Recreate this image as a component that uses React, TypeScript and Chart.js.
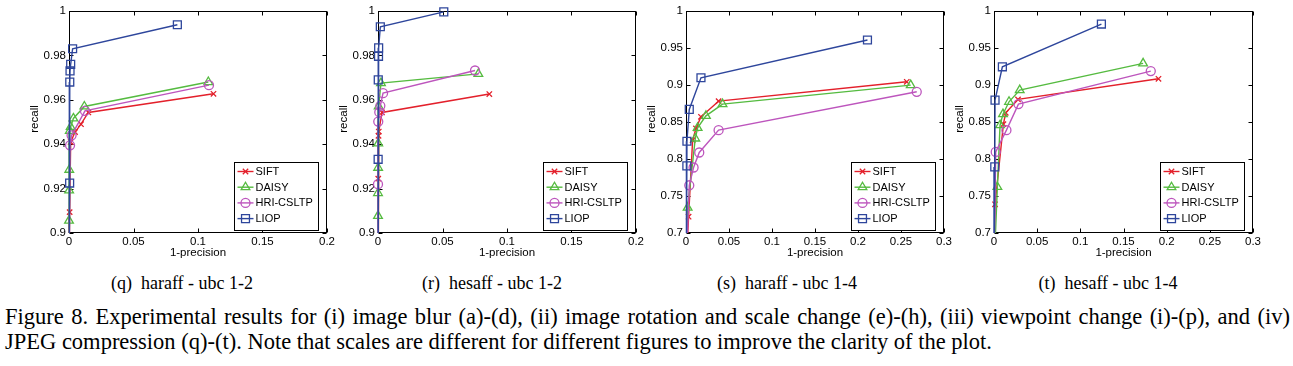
import React, { useEffect, useRef } from 'react';
import { Chart, registerables } from 'chart.js';
import { drawPoint } from 'chart.js/helpers';

Chart.register(...registerables);

// ---------- data ----------
const seriesNames = ['SIFT', 'DAISY', 'HRI-CSLTP', 'LIOP'];

const xTicksNarrow = [0, 0.05, 0.1, 0.15, 0.2];
const xTicksWide = [0, 0.05, 0.1, 0.15, 0.2, 0.25, 0.3];
const yTicksFine = [0.9, 0.92, 0.94, 0.96, 0.98, 1];
const yTicksCoarse = [0.7, 0.75, 0.8, 0.85, 0.9, 0.95, 1];

const xTitle = '1-precision';
const yTitle = 'recall';

// (q) haraff - ubc 1-2   [1-precision, recall]
const qSIFT = [[0.112, 0.9627], [0.015, 0.9543], [0.0093, 0.949], [0.0047, 0.9455], [0.0013, 0.941], [0.0005, 0.9094], [0, 0.88]];
const qDAISY = [[0.108, 0.968], [0.0119, 0.957], [0.0034, 0.9516], [0.0013, 0.9478], [0.0006, 0.946], [0.0002, 0.9285], [0.0001, 0.9192], [0, 0.9056], [0, 0.88]];
const qHRI = [[0.1085, 0.9666], [0.0124, 0.955], [0.002, 0.944], [0.0008, 0.9395], [0, 0.88]];
const qLIOP = [[0.084, 0.9938], [0.0028, 0.983], [0.0013, 0.976], [0.0008, 0.973], [0.0006, 0.968], [0.0005, 0.9225], [0, 0.88]];

// (r) hesaff - ubc 1-2
const rSIFT = [[0.0863, 0.9626], [0.0031, 0.9543], [0.0006, 0.9457], [0.0004, 0.9438], [0.0002, 0.9245], [0, 0.88]];
const rDAISY = [[0.0778, 0.9717], [0.0023, 0.9675], [0.0005, 0.957], [0.0002, 0.9404], [0.0001, 0.9294], [0, 0.918], [0, 0.9077], [0, 0.88]];
const rHRI = [[0.0752, 0.9732], [0.0039, 0.963], [0.0018, 0.9573], [0.001, 0.9544], [0.0002, 0.9502], [0, 0.922], [0, 0.88]];
const rLIOP = [[0.051, 0.9996], [0.0018, 0.9929], [0.0005, 0.9834], [0.0004, 0.9796], [0.0002, 0.969], [0.0001, 0.9332], [0, 0.88]];

// (s) haraff - ubc 1-4
const sSIFT = [[0.2567, 0.9043], [0.0379, 0.8782], [0.0174, 0.857], [0.0116, 0.8413], [0.0077, 0.8254], [0.003, 0.722], [0, 0.65]];
const sDAISY = [[0.2613, 0.8999], [0.0425, 0.8742], [0.0232, 0.8583], [0.0135, 0.8421], [0.0108, 0.8277], [0.0019, 0.7343], [0, 0.65]];
const sHRI = [[0.2683, 0.8908], [0.0379, 0.839], [0.0154, 0.8088], [0.0088, 0.7885], [0.0038, 0.7645], [0, 0.65]];
const sLIOP = [[0.211, 0.9608], [0.0174, 0.9098], [0.0038, 0.867], [0.0011, 0.824], [0.001, 0.7907], [0, 0.65]];

// (t) hesaff - ubc 1-4
const tSIFT = [[0.1905, 0.9084], [0.0278, 0.8805], [0.0136, 0.8624], [0.0109, 0.8471], [0.0012, 0.7388], [0, 0.65]];
const tDAISY = [[0.1727, 0.9292], [0.0298, 0.8931], [0.0174, 0.8773], [0.0104, 0.8606], [0.007, 0.8457], [0.0039, 0.7622], [0, 0.65]];
const tHRI = [[0.1816, 0.9188], [0.0283, 0.8742], [0.0144, 0.839], [0.002, 0.8096], [0, 0.65]];
const tLIOP = [[0.1244, 0.9824], [0.0097, 0.9246], [0.0012, 0.8796], [0.0009, 0.7893], [0, 0.65]];

const subCaptions = ['(q)  haraff - ubc 1-2', '(r)  hesaff - ubc 1-2', '(s)  haraff - ubc 1-4', '(t)  hesaff - ubc 1-4'];
const captionLine1 = 'Figure 8. Experimental results for (i) image blur (a)-(d), (ii) image rotation and scale change (e)-(h), (iii) viewpoint change (i)-(p), and (iv)';
const captionLine2 = 'JPEG compression (q)-(t). Note that scales are different for different figures to improve the clarity of the plot.';

// ---------- styles / layout ----------
const SERIES_STYLE = [
  { color: '#e3202b', pointStyle: 'crossRot', radius: 3.8 },
  { color: '#55bb40', pointStyle: 'triangle', radius: 5 },
  { color: '#bd55bd', pointStyle: 'circle', radius: 4.5 },
  { color: '#2e469c', pointStyle: 'rect', radius: 5.6 },
];
const FONT = { family: '"Liberation Sans", Arial, sans-serif', size: 11.5 };
const CANVAS_H = 260;
const AREA_TOP = 11;
const AREA_BOTTOM = 233;
const PAD_L = 60;
const PAD_R = 10;

const panels = [
  { left: 69, right: 327, xMax: 0.2, yMin: 0.9, xTicks: xTicksNarrow, yTicks: yTicksFine, series: [qSIFT, qDAISY, qHRI, qLIOP], capX: 182 },
  { left: 378, right: 636, xMax: 0.2, yMin: 0.9, xTicks: xTicksNarrow, yTicks: yTicksFine, series: [rSIFT, rDAISY, rHRI, rLIOP], capX: 492 },
  { left: 686, right: 944, xMax: 0.3, yMin: 0.7, xTicks: xTicksWide, yTicks: yTicksCoarse, series: [sSIFT, sDAISY, sHRI, sLIOP], capX: 787 },
  { left: 994, right: 1253, xMax: 0.3, yMin: 0.7, xTicks: xTicksWide, yTicks: yTicksCoarse, series: [tSIFT, tDAISY, tHRI, tLIOP], capX: 1108 },
];

const fontStr = `${FONT.size}px ${FONT.family}`;

const matlabPlugin = {
  id: 'matlabAxes',
  beforeDatasetsDraw(chart: any) {
    const { ctx, chartArea: a, scales } = chart;
    const L = Math.round(a.left) + 0.5;
    const R = Math.round(a.right) - 0.5;
    const T = Math.round(a.top) + 0.5;
    const B = Math.round(a.bottom) - 0.5;
    ctx.save();
    ctx.strokeStyle = '#000';
    ctx.lineWidth = 1;
    ctx.strokeRect(L, T, R - L, B - T);
    const tl = 4;
    ctx.beginPath();
    scales.x.ticks.forEach((t: any) => {
      const x = Math.round(scales.x.getPixelForValue(t.value)) + 0.5;
      ctx.moveTo(x, B); ctx.lineTo(x, B - tl);
      ctx.moveTo(x, T); ctx.lineTo(x, T + tl);
    });
    scales.y.ticks.forEach((t: any) => {
      const y = Math.round(scales.y.getPixelForValue(t.value)) + 0.5;
      ctx.moveTo(L, y); ctx.lineTo(L + tl, y);
      ctx.moveTo(R, y); ctx.lineTo(R - tl, y);
    });
    ctx.stroke();
    ctx.restore();
  },
  afterDatasetsDraw(chart: any) {
    const { ctx, chartArea: a } = chart;
    ctx.save();
    ctx.font = fontStr;
    ctx.fillStyle = '#000';
    // axis titles
    ctx.textAlign = 'center';
    ctx.textBaseline = 'middle';
    ctx.fillText(xTitle, (a.left + a.right) / 2, a.bottom + 20);
    ctx.save();
    ctx.translate(a.left - 34, (a.top + a.bottom) / 2 - 3);
    ctx.rotate(-Math.PI / 2);
    ctx.fillText(yTitle, 0, 0);
    ctx.restore();
    // legend
    const w = 84, h = 68;
    const bx = Math.round(a.right - 9 - w) + 0.5;
    const by = Math.round(a.bottom - 3 - h) + 0.5;
    ctx.fillStyle = '#fff';
    ctx.fillRect(bx, by, w, h);
    ctx.strokeStyle = '#000';
    ctx.lineWidth = 1;
    ctx.strokeRect(bx, by, w, h);
    ctx.font = `11px ${FONT.family}`;
    chart.data.datasets.forEach((ds: any, i: number) => {
      const st = SERIES_STYLE[i];
      const y = by + 9 + i * 15.7;
      ctx.strokeStyle = st.color;
      ctx.lineWidth = 1.4;
      ctx.beginPath();
      ctx.moveTo(bx + 3, y);
      ctx.lineTo(bx + 19, y);
      ctx.stroke();
      ctx.fillStyle = 'rgba(0,0,0,0)';
      ctx.lineWidth = 1.3;
      drawPoint(ctx, { pointStyle: st.pointStyle, radius: st.radius, rotation: 0, borderWidth: 1.3 } as any, bx + 11, y);
      ctx.fillStyle = '#000';
      ctx.textAlign = 'left';
      ctx.textBaseline = 'middle';
      ctx.fillText(ds.label, bx + 21, y + 0.5);
    });
    ctx.restore();
  },
};

function Panel({ cfg }: { cfg: any }) {
  const ref = useRef<HTMLCanvasElement>(null);
  const W = cfg.right - cfg.left + PAD_L + PAD_R;
  useEffect(() => {
    const chart = new Chart(ref.current as HTMLCanvasElement, {
      type: 'scatter',
      data: {
        datasets: cfg.series.map((pts: number[][], i: number) => {
          const st = SERIES_STYLE[i];
          return {
            label: seriesNames[i],
            data: pts.map(([x, y]) => ({ x, y })),
            showLine: true,
            borderColor: st.color,
            backgroundColor: 'rgba(0,0,0,0)',
            borderWidth: 1.4,
            pointStyle: st.pointStyle,
            pointRadius: st.radius,
            pointBorderColor: st.color,
            pointBackgroundColor: 'rgba(0,0,0,0)',
            pointBorderWidth: 1.3,
            tension: 0,
            order: 3 - i,
            clip: { left: 8, top: 8, right: 8, bottom: 0 },
          };
        }),
      },
      options: {
        animation: false,
        responsive: false,
        events: [],
        layout: { padding: { left: 0, right: PAD_R, top: AREA_TOP, bottom: 0 } },
        plugins: { legend: { display: false }, tooltip: { enabled: false } },
        scales: {
          x: {
            type: 'linear',
            min: 0,
            max: cfg.xMax,
            afterBuildTicks: (s: any) => { s.ticks = cfg.xTicks.map((v: number) => ({ value: v })); },
            afterFit: (s: any) => { s.height = CANVAS_H - AREA_BOTTOM; },
            ticks: { padding: 2, font: FONT, color: '#000', maxRotation: 0, autoSkip: false, callback: (v: any) => String(v) },
            grid: { display: false, drawTicks: false },
            border: { display: false },
          },
          y: {
            type: 'linear',
            min: cfg.yMin,
            max: 1,
            afterBuildTicks: (s: any) => { s.ticks = cfg.yTicks.map((v: number) => ({ value: v })); },
            afterFit: (s: any) => { s.width = PAD_L; },
            ticks: { padding: 3, font: FONT, color: '#000', autoSkip: false, callback: (v: any) => String(v) },
            grid: { display: false, drawTicks: false },
            border: { display: false },
          },
        },
      } as any,
      plugins: [matlabPlugin],
    });
    return () => chart.destroy();
  }, []);
  return (
    <canvas
      ref={ref}
      width={W}
      height={CANVAS_H}
      style={{ position: 'absolute', left: cfg.left - PAD_L, top: 0, width: W, height: CANVAS_H }}
    />
  );
}

export default function App() {
  const serif = '"Liberation Serif", "Times New Roman", serif';
  return (
    <div style={{ position: 'absolute', left: 0, top: 0, width: 1293, height: 366, background: '#fff', overflow: 'hidden' }}>
      {panels.map((p, i) => (
        <Panel key={i} cfg={p} />
      ))}
      {panels.map((p, i) => (
        <div
          key={'c' + i}
          style={{ position: 'absolute', left: p.capX - 150, top: 272, width: 300, textAlign: 'center', fontFamily: serif, fontSize: 18, lineHeight: '22px', whiteSpace: 'pre' }}
        >
          {subCaptions[i]}
        </div>
      ))}
      <div style={{ position: 'absolute', left: 5, top: 304, width: 1285, fontFamily: serif, fontSize: 22.5, lineHeight: '26px', textAlign: 'justify', textAlignLast: 'justify' as any, whiteSpace: 'nowrap' }}>
        {captionLine1}
      </div>
      <div style={{ position: 'absolute', left: 5, top: 329, width: 1285, fontFamily: serif, fontSize: 22.5, lineHeight: '26px', whiteSpace: 'nowrap' }}>
        {captionLine2}
      </div>
    </div>
  );
}
